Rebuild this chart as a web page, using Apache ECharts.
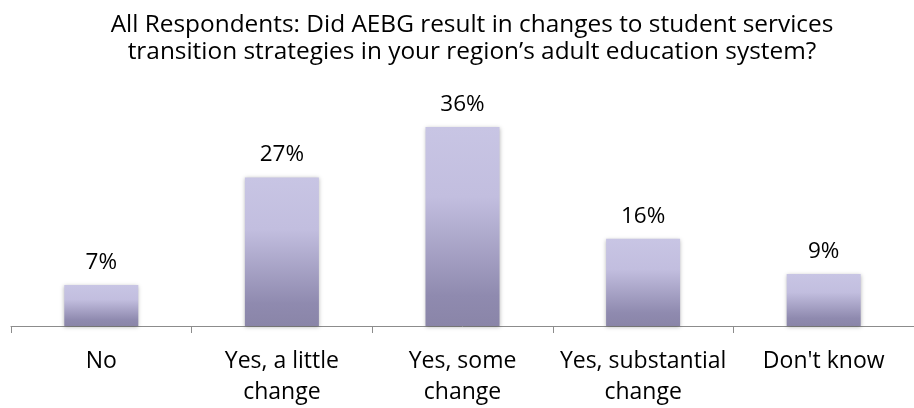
<!DOCTYPE html>
<html>
<head>
<meta charset="utf-8">
<script src="https://cdn.jsdelivr.net/npm/echarts@6/dist/echarts.min.js"></script>
<style>
html,body{margin:0;padding:0;background:#fff;}
#chart{width:914px;height:408px;}
</style>
</head>
<body>
<div id="chart"></div>
<script>
const titleLines = ["All Respondents: Did AEBG result in changes to student services", "transition strategies in your region\u2019s adult education system?"];
const categories = ["No", "Yes, a little\nchange", "Yes, some\nchange", "Yes, substantial\nchange", "Don't know"];
const values = [7.4, 26.9, 36, 15.8, 9.4];

const FONT = "Open Sans";
const chart = echarts.init(document.getElementById('chart'), null, {renderer: 'canvas'});
chart.setOption({
  animation: false,
  backgroundColor: '#ffffff',
  title: {
    text: titleLines.join('\n'),
    left: 467, top: 7, textAlign: 'center',
    textStyle: {fontFamily: FONT, fontSize: 24.4, fontWeight: 'normal', color: '#000', lineHeight: 27}
  },
  grid: {left: 11, width: 912, top: 105, bottom: 79, containLabel: false},
  xAxis: {
    type: 'category',
    data: categories,
    axisLine: {lineStyle: {color: '#8c8c8c', width: 1}},
    axisTick: {show: true, length: 7, alignWithLabel: false, lineStyle: {color: '#8c8c8c'}},
    axisLabel: {fontFamily: FONT, fontSize: 23, color: '#000', margin: 20, lineHeight: 31, interval: 0}
  },
  yAxis: {
    type: 'value', min: 0, max: 40, show: false,
    splitLine: {show: false}
  },
  series: [{
    type: 'bar',
    data: values,
    barWidth: 74,
    itemStyle: {
      color: new echarts.graphic.LinearGradient(0, 0, 0, 1, [
        {offset: 0, color: '#c8c5e4'},
        {offset: 0.35, color: '#c2bedf'},
        {offset: 0.85, color: '#8f8aaf'},
        {offset: 1, color: '#8a85a8'}
      ]),
      shadowColor: 'rgba(0,0,0,0.28)', shadowBlur: 4, shadowOffsetX: 0, shadowOffsetY: 1
    },
    label: {
      show: true, position: 'top', distance: 11,
      fontFamily: FONT, fontSize: 22.5, color: '#000',
      formatter: p => Math.round(p.value) + '%'
    }
  }]
});
</script>
</body>
</html>
